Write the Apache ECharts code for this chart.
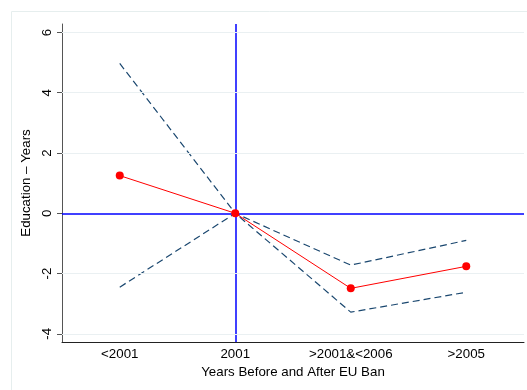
<!DOCTYPE html>
<html>
<head>
<meta charset="utf-8">
<script src="https://cdn.jsdelivr.net/npm/echarts@6/dist/echarts.min.js"></script>
<style>html,body{margin:0;padding:0;background:#fff}#c{width:527px;height:390px}</style>
</head>
<body>
<div id="c"></div>
<script>
var categories = ['<2001', '2001', '>2001&<2006', '>2005'];
var estimate = [1.25, 0, -2.49, -1.76];
var upperCI = [4.97, 0, -1.72, -0.90];
var lowerCI = [-2.45, 0, -3.28, -2.62];
var yTicks = [-4, -2, 0, 2, 4, 6];
var yMin = -4.27, yMax = 6.28;
var refX = '2001', refY = 0;

var chart = echarts.init(document.getElementById('c'), null, {renderer: 'canvas'});
var font = '"Liberation Sans", Arial, sans-serif';
var fs = 13.3;
var ciStyle = {color: '#1a476f', width: 1.2, type: [7, 4]};
chart.setOption({
  animation: false,
  backgroundColor: '#ffffff',
  graphic: [{
    type: 'rect', shape: {x: 11.5, y: 11.5, width: 700, height: 700},
    style: {fill: 'none', stroke: '#e6eeee', lineWidth: 1}, silent: true, z: -10
  }],
  grid: {left: 62, right: 3, top: 24, bottom: 48, containLabel: false},
  xAxis: {
    type: 'category', data: categories, boundaryGap: true,
    name: 'Years Before and After EU Ban', nameLocation: 'middle', nameGap: 21,
    nameTextStyle: {fontFamily: font, fontSize: fs, color: '#000'},
    axisLine: {onZero: false, lineStyle: {color: '#222', width: 1}},
    axisTick: {alignWithLabel: true, length: 5, lineStyle: {color: '#222'}},
    axisLabel: {fontFamily: font, fontSize: fs, color: '#000', margin: 6, interval: 0},
    splitLine: {show: false}
  },
  yAxis: {
    type: 'value', min: yMin, max: yMax,
    name: 'Education \u2013 Years', nameLocation: 'middle', nameGap: 21, nameRotate: 90,
    nameTextStyle: {fontFamily: font, fontSize: fs, color: '#000'},
    axisLine: {show: true, onZero: false, lineStyle: {color: '#555', width: 1}},
    axisTick: {show: true, length: 5, customValues: yTicks, lineStyle: {color: '#555'}},
    axisLabel: {fontFamily: font, fontSize: fs, color: '#000', rotate: 90, margin: 8, customValues: yTicks},
    splitLine: {show: false}
  },
  series: [
    {
      type: 'line', data: [], symbol: 'none', color: '#0000ff',
      markLine: {
        silent: true, symbol: 'none', label: {show: false},
        lineStyle: {color: '#0000ff', width: 1.5, type: 'solid', opacity: 1},
        emphasis: {disabled: true},
        data: [{yAxis: refY}, {xAxis: refX}]
      }
    },
    {
      type: 'line', data: upperCI, symbol: 'none', lineStyle: ciStyle, z: 3,
      markLine: {
        silent: true, symbol: 'none', label: {show: false},
        lineStyle: {color: '#eaf0f2', width: 1, type: 'solid'},
        data: yTicks.filter(function (v) { return v !== 0; }).map(function (v) { return {yAxis: v}; })
      }
    },
    {type: 'line', data: lowerCI, symbol: 'none', lineStyle: ciStyle, z: 3},
    {
      type: 'line', data: estimate, symbol: 'circle', symbolSize: 8,
      itemStyle: {color: '#ff0000'}, lineStyle: {color: '#ff0000', width: 1}, z: 5
    }
  ]
});
</script>
</body>
</html>
